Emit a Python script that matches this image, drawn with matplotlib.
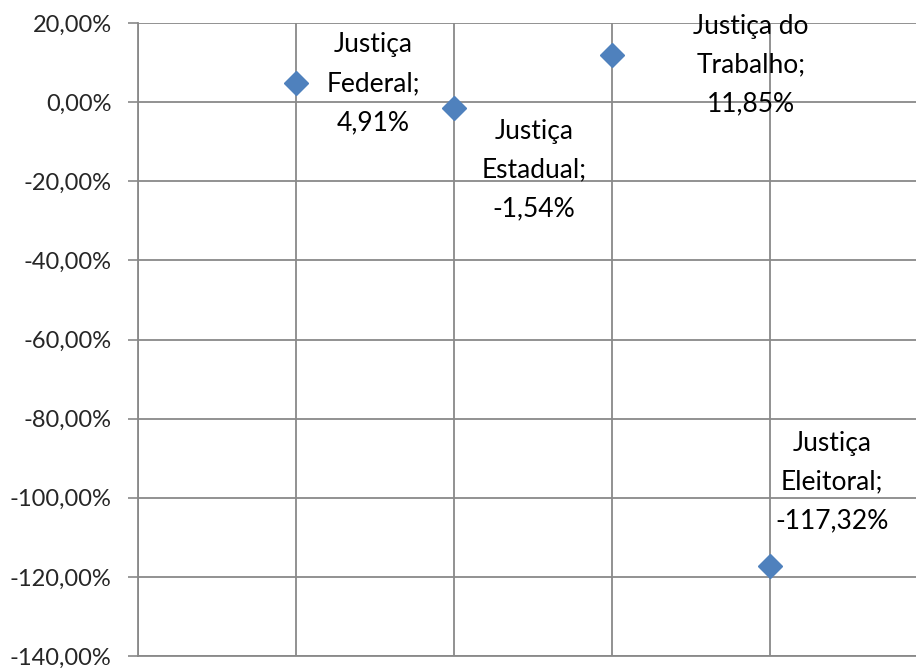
import matplotlib
matplotlib.use("Agg")
import matplotlib.pyplot as plt
from matplotlib.ticker import FuncFormatter

categories = ["Justiça\nFederal;", "Justiça\nEstadual;", "Justiça do\nTrabalho;", "Justiça\nEleitoral;"]
values = [4.91, -1.54, 11.85, -117.32]
value_labels = ["4,91%", "-1,54%", "11,85%", "-117,32%"]
yticks = [20, 0, -20, -40, -60, -80, -100, -120, -140]
# label offsets (pixels) relative to each point
offsets = [(77, -1), (80, -62), (139, -10), (62, 84)]

plt.rcParams['font.family'] = ['Lato', 'DejaVu Sans']

fig = plt.figure(figsize=(9.16, 6.68), dpi=100)
W, H = 916, 668
left, right, top, bottom = 138, 928, 23, 656
ax = fig.add_axes([left / W, 1 - bottom / H, (right - left) / W, (bottom - top) / H])

xs = list(range(1, len(values) + 1))
ax.plot(xs, values, linestyle='none', marker='D', markersize=12,
        color='#4F81BD', markeredgecolor='#4F81BD', zorder=3, clip_on=False)

ax.set_xlim(0, 5)
ax.set_ylim(-140, 20)
ax.set_yticks(yticks)
ax.yaxis.set_major_formatter(FuncFormatter(lambda v, p: f"{v:.2f}".replace('.', ',') + "%"))
ax.set_xticks([0, 1, 2, 3, 4, 5])
ax.set_xticklabels([])
ax.tick_params(axis='x', length=0)
ax.tick_params(axis='y', length=7, width=1.2, color='#898989', labelsize=17,
               labelcolor='#262626', pad=12)
ax.grid(True, color='#898989', linewidth=1.3)
ax.set_axisbelow(True)
for s in ['top', 'right']:
    ax.spines[s].set_visible(False)
for s in ['left', 'bottom']:
    ax.spines[s].set_color('#898989')
    ax.spines[s].set_linewidth(1.3)

for x, v, cat, vl, off in zip(xs, values, categories, value_labels, offsets):
    ax.annotate(cat + "\n" + vl, xy=(x, v), xytext=off, textcoords='offset pixels',
                ha='center', va='center', fontsize=19, linespacing=1.7,
                color='#000000', annotation_clip=False)

fig.savefig("out.png", dpi=100, facecolor='white')
